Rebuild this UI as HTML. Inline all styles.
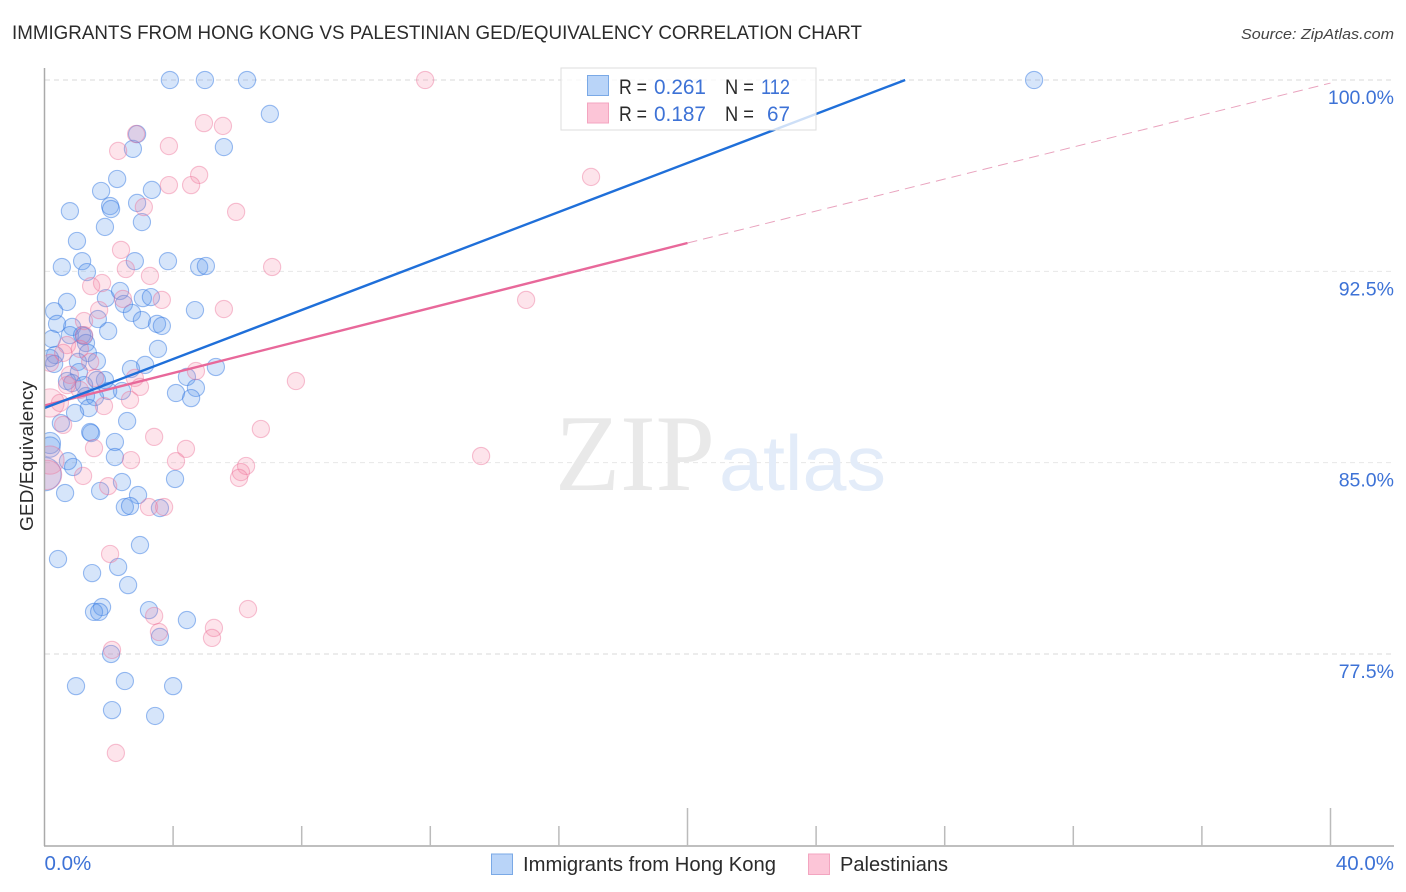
<!DOCTYPE html>
<html lang="en">
<head>
<meta charset="utf-8">
<title>Immigrants from Hong Kong vs Palestinian GED/Equivalency Correlation Chart</title>
<style>
html,body{margin:0;padding:0;background:#fff;width:1406px;height:892px;overflow:hidden}
svg{display:block}
text{font-family:"Liberation Sans",sans-serif}
</style>
</head>
<body>
<svg id="chart" width="1406" height="892" viewBox="0 0 1406 892" xmlns="http://www.w3.org/2000/svg">
  <defs>
    <clipPath id="plot-clip"><rect x="45" y="60" width="1349" height="786"></rect></clipPath>
  </defs>
  <rect x="0" y="0" width="1406" height="892" fill="#ffffff"></rect>
  <text x="12" y="39" font-size="19" fill="#2b2b2b" textLength="850" lengthAdjust="spacingAndGlyphs">IMMIGRANTS FROM HONG KONG VS PALESTINIAN GED/EQUIVALENCY CORRELATION CHART</text>
  <text x="1241" y="39" font-size="15" font-style="italic" fill="#444444" textLength="153" lengthAdjust="spacingAndGlyphs">Source: ZipAtlas.com</text>

  <g id="grid"></g>

  <g>
    <text x="555" y="490" style="font-family:'Liberation Serif',serif" font-size="109" fill="#e9e9e9" textLength="160" lengthAdjust="spacingAndGlyphs">ZIP</text>
    <text x="719" y="490" font-size="78" fill="#e3ecf9" textLength="167" lengthAdjust="spacingAndGlyphs">atlas</text>
  </g>

  <g id="points" clip-path="url(#plot-clip)"></g>
  <g id="trends"></g>
  <g id="axes">
    <line x1="44.5" y1="68" x2="44.5" y2="846" stroke="#aaaaaa" stroke-width="1.5"></line>
    <line x1="44" y1="846" x2="1394" y2="846" stroke="#aaaaaa" stroke-width="1.5"></line>
  </g>
  <g id="tick-labels"></g>
  <text transform="translate(33,531) rotate(-90)" x="0" y="0" font-size="18.5" fill="#2b2b2b" textLength="150" lengthAdjust="spacingAndGlyphs">GED/Equivalency</text>

  <g>
    <rect x="561" y="68" width="255" height="62" fill="#ffffff" fill-opacity="0.78" stroke="#dddddd" stroke-width="1"></rect>
    <rect x="587.5" y="75.5" width="21" height="20" fill="#b9d4f8" stroke="#7aa9e6" stroke-width="1"></rect>
    <text x="619" y="94" font-size="21" fill="#2b2b2b" textLength="28" lengthAdjust="spacingAndGlyphs">R =</text>
    <text x="654" y="94" font-size="21" fill="#3d72d6" textLength="52" lengthAdjust="spacingAndGlyphs">0.261</text>
    <text x="725" y="94" font-size="21" fill="#2b2b2b" textLength="29" lengthAdjust="spacingAndGlyphs">N =</text>
    <text x="761" y="94" font-size="21" fill="#3d72d6" textLength="29" lengthAdjust="spacingAndGlyphs">112</text>
    <rect x="587.5" y="103" width="21" height="20" fill="#fcc5d7" stroke="#f3a5c0" stroke-width="1"></rect>
    <text x="619" y="121" font-size="21" fill="#2b2b2b" textLength="28" lengthAdjust="spacingAndGlyphs">R =</text>
    <text x="654" y="121" font-size="21" fill="#3d72d6" textLength="52" lengthAdjust="spacingAndGlyphs">0.187</text>
    <text x="725" y="121" font-size="21" fill="#2b2b2b" textLength="29" lengthAdjust="spacingAndGlyphs">N =</text>
    <text x="767" y="121" font-size="21" fill="#3d72d6" textLength="23" lengthAdjust="spacingAndGlyphs">67</text>
  </g>

  <g>
    <rect x="491.5" y="854" width="21" height="20.5" fill="#b9d4f8" stroke="#7aa9e6" stroke-width="1"></rect>
    <text x="523" y="871" font-size="20" fill="#2b2b2b" textLength="253" lengthAdjust="spacingAndGlyphs">Immigrants from Hong Kong</text>
    <rect x="808.5" y="854" width="21" height="20.5" fill="#fcc5d7" stroke="#f3a5c0" stroke-width="1"></rect>
    <text x="840" y="871" font-size="20" fill="#2b2b2b" textLength="108" lengthAdjust="spacingAndGlyphs">Palestinians</text>
  </g>
</svg>
<script>
const xTickValues = [0, 4, 8, 12, 16, 20, 24, 28, 32, 36, 40];
const xTickLabels = ["0.0%", "40.0%"];
const xLabelValues = [0, 40];
const yTickValues = [100, 92.5, 85, 77.5];
const yTickLabels = ["100.0%", "92.5%", "85.0%", "77.5%"];

const hongKongX = [3.90,4.99,6.30,30.78,7.01,5.58,2.75,2.88,2.26,1.76,3.34,2.04,2.07,0.79,2.88,3.03,1.88,1.01,0.54,1.17,1.32,2.81,3.84,4.81,5.02,0.70,0.30,1.91,2.35,2.47,2.72,3.06,3.31,4.68,3.03,3.50,3.65,0.86,0.39,0.23,0.79,1.17,1.23,1.29,1.98,1.66,3.53,0.33,0.17,1.35,1.04,1.63,0.30,3.13,2.69,5.33,1.07,4.43,4.71,4.09,4.56,2.41,1.98,1.88,1.63,0.70,0.86,1.23,1.29,1.57,1.38,0.95,2.57,1.45,1.42,2.19,2.19,0.51,0.73,0.89,4.06,1.73,0.64,2.41,2.91,2.50,2.66,3.59,2.97,0.42,1.48,2.29,2.60,3.25,1.79,1.54,1.70,4.43,3.59,2.07,2.50,0.98,4.00,2.10,3.44];
const hongKongY = [100,100,100,100,98.67,97.37,97.30,97.88,96.12,95.65,95.69,95.06,94.94,94.86,95.18,94.43,94.24,93.69,92.67,92.90,92.47,92.90,92.90,92.67,92.71,91.30,90.94,91.45,91.73,91.22,90.87,91.45,91.49,90.98,90.59,90.44,90.36,90.32,90.44,89.85,90.00,90.00,89.96,89.69,90.16,90.63,89.46,89.22,89.10,89.30,88.95,88.98,88.87,88.83,88.67,88.75,88.55,88.36,87.93,87.73,87.53,87.81,87.81,88.24,88.24,88.20,88.12,88.04,87.61,87.57,87.14,86.95,86.63,86.16,86.20,85.81,85.22,86.55,85.06,84.83,84.36,83.89,83.81,84.24,83.73,83.26,83.30,83.22,81.77,81.22,80.67,80.91,80.20,79.22,79.34,79.15,79.15,78.83,78.17,77.50,76.44,76.24,76.24,75.30,75.07];
const hongKongLargeX = [0.17,0.17,0];
const hongKongLargeY = [85.77,85.61,84.55];
const hongKongLargeWeight = [1.5,1.4,3.77];

const palestiniansX = [11.84,4.96,5.55,2.85,2.29,3.87,4.81,17.00,4.56,3.87,3.09,5.96,2.38,2.53,3.28,7.08,1.79,1.45,3.65,14.98,2.44,5.58,1.70,1.23,1.23,0.70,1.10,0.58,1.42,0.17,0.79,4.71,7.82,2.81,2.97,1.57,1.10,0.70,2.66,1.85,0.48,0.58,3.41,6.73,4.40,4.09,2.69,1.54,13.58,1.20,1.98,6.27,6.11,6.05,3.25,3.72,2.04,3.41,6.33,3.56,5.27,5.21,2.10,2.22];
const palestiniansY = [100,98.31,98.20,97.88,97.22,97.41,96.28,96.20,95.88,95.88,95.02,94.83,93.34,92.59,92.32,92.67,92.04,91.92,91.38,91.38,91.42,91.02,90.98,90.55,90.00,89.61,89.46,89.30,88.95,88.91,88.44,88.59,88.20,88.32,87.97,88.32,87.85,88.04,87.46,87.22,87.34,86.48,86.01,86.32,85.54,85.06,85.10,85.57,85.26,84.48,84.08,84.87,84.63,84.40,83.26,83.26,81.42,78.99,79.26,78.36,78.52,78.13,77.66,73.62];
const palestiniansLargeX = [0.17,0.17,0.08];
const palestiniansLargeY = [87.34,85.10,84.52];
const palestiniansLargeWeight = [2.7,2.7,2.9];

const hongKongTrendX = [0, 26.77];
const hongKongTrendY = [87.14, 100];
const palestiniansTrendX = [0, 20];
const palestiniansTrendY = [87.24, 93.61];
const palestiniansForecastX = [20, 40];
const palestiniansForecastY = [93.61, 99.88];

const NS = 'http://www.w3.org/2000/svg';
function xScale(v){ return 44.5 + v * 32.15; }
function yScale(v){ return 80 + (100 - v) * 25.51; }
function radius(w){ return 8.6 * Math.sqrt(w); }

const gridGroup = document.getElementById('grid');
yTickValues.forEach(function(v, i){
  const line = document.createElementNS(NS, 'line');
  
  
  line.setAttribute('x1', 45);
  line.setAttribute('x2', 1394);
  line.setAttribute('y1', yScale(v));
  line.setAttribute('y2', yScale(v));
  line.setAttribute('stroke', i === 0 || i === 3 ? '#d9d9d9' : '#e8e8e8');
  line.setAttribute('stroke-width', 1);
  line.setAttribute('stroke-dasharray', '5 4');
  gridGroup.appendChild(line);
});

const axesGroup = document.getElementById('axes');
xTickValues.forEach(function(v){
  if (v === 0) return;
  const tick = document.createElementNS(NS, 'line');
  
  
  tick.setAttribute('x1', xScale(v));
  tick.setAttribute('x2', xScale(v));
  tick.setAttribute('y1', 846);
  tick.setAttribute('y2', v % 20 === 0 ? 808 : 826);
  tick.setAttribute('stroke', '#bbbbbb');
  tick.setAttribute('stroke-width', 1.5);
  axesGroup.appendChild(tick);
});

const labelGroup = document.getElementById('tick-labels');
yTickValues.forEach(function(v, i){
  const t = document.createElementNS(NS, 'text');
  
  
  t.setAttribute('x', 1394);
  t.setAttribute('y', yScale(v) + 24);
  t.setAttribute('text-anchor', 'end');
  t.setAttribute('font-size', '19.5');
  t.setAttribute('fill', '#3d72d6');
  t.textContent = yTickLabels[i];
  labelGroup.appendChild(t);
});
xLabelValues.forEach(function(v, i){
  const t = document.createElementNS(NS, 'text');
  
  
  t.setAttribute('x', i === 0 ? xScale(v) : 1394);
  t.setAttribute('y', 870);
  t.setAttribute('text-anchor', i === 0 ? 'start' : 'end');
  t.setAttribute('font-size', '20.5');
  t.setAttribute('fill', '#3d72d6');
  t.textContent = xTickLabels[i];
  labelGroup.appendChild(t);
});

const pointGroup = document.getElementById('points');
function drawPoint(x, y, w, fill, stroke, name){
  const c = document.createElementNS(NS, 'circle');
  
  
  c.setAttribute('cx', xScale(x));
  c.setAttribute('cy', yScale(y));
  c.setAttribute('r', radius(w));
  c.setAttribute('fill', fill);
  c.setAttribute('stroke', stroke);
  c.setAttribute('stroke-width', 1.1);
  pointGroup.appendChild(c);
}
const hkFill = 'rgba(90,150,235,0.25)';
const hkStroke = 'rgba(50,120,225,0.48)';
const palFill = 'rgba(245,130,165,0.22)';
const palStroke = 'rgba(235,110,150,0.42)';
hongKongLargeX.forEach(function(x, i){ drawPoint(x, hongKongLargeY[i], hongKongLargeWeight[i], hkFill, hkStroke, 'hong-kong-point'); });
hongKongX.forEach(function(x, i){ drawPoint(x, hongKongY[i], 1, hkFill, hkStroke, 'hong-kong-point'); });
palestiniansLargeX.forEach(function(x, i){ drawPoint(x, palestiniansLargeY[i], palestiniansLargeWeight[i], palFill, palStroke, 'palestinians-point'); });
palestiniansX.forEach(function(x, i){ drawPoint(x, palestiniansY[i], 1, palFill, palStroke, 'palestinians-point'); });

const trendGroup = document.getElementById('trends');
function drawTrend(xs, ys, color, width, dash, name){
  const l = document.createElementNS(NS, 'line');
  
  
  l.setAttribute('x1', xScale(xs[0]));
  l.setAttribute('y1', yScale(ys[0]));
  l.setAttribute('x2', xScale(xs[1]));
  l.setAttribute('y2', yScale(ys[1]));
  l.setAttribute('stroke', color);
  l.setAttribute('stroke-width', width);
  if (dash) l.setAttribute('stroke-dasharray', dash);
  trendGroup.appendChild(l);
}
drawTrend(palestiniansForecastX, palestiniansForecastY, '#e9a3be', 1, '10 6', 'palestinians-trend-forecast');
drawTrend(palestiniansTrendX, palestiniansTrendY, '#e8689a', 2.4, null, 'palestinians-trend-line');
drawTrend(hongKongTrendX, hongKongTrendY, '#1f6fd9', 2.4, null, 'hong-kong-trend-line');
</script>
</body>
</html>
